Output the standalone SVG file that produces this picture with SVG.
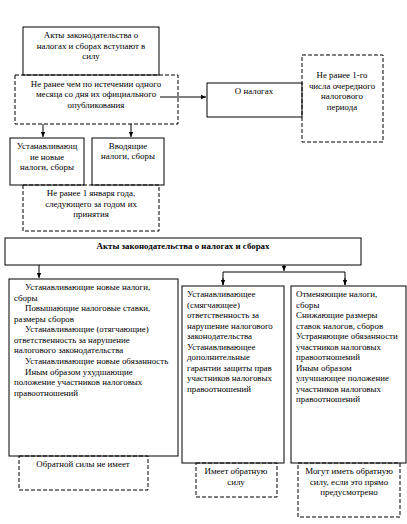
<svg xmlns="http://www.w3.org/2000/svg" width="407" height="524" viewBox="0 0 407 524">
<style>
.s{fill:#fff;stroke:#000;stroke-width:1}
.d{fill:none;stroke:#000;stroke-width:1;stroke-dasharray:4,2}
text{font-family:"Liberation Serif","Times New Roman",serif;font-size:8.9px;fill:#000}
.c{text-anchor:middle}
.b{font-weight:bold}
.ln{stroke:#000;stroke-width:1;fill:none}
</style>
<defs>
<marker id="ah" markerWidth="6" markerHeight="6" refX="5" refY="3" orient="auto" markerUnits="userSpaceOnUse">
<path d="M0,0.8 L5,3 L0,5.2 Z" fill="#000"/>
</marker>
</defs>
<rect width="407" height="524" fill="#fff"/>

<g id="connectors">
<line class="ln" x1="160" y1="97" x2="206" y2="97" marker-end="url(#ah)"/>
<line class="ln" x1="43" y1="124" x2="43" y2="137" marker-end="url(#ah)"/>
<line class="ln" x1="131" y1="124" x2="131" y2="137" marker-end="url(#ah)"/>
<line class="ln" x1="39" y1="265" x2="39" y2="278" marker-end="url(#ah)"/>
<line class="ln" x1="284" y1="265" x2="284" y2="271" marker-end="url(#ah)"/>
<polyline class="ln" points="223,285 223,272 345,272 345,285"/>
<line class="ln" x1="223" y1="278" x2="223" y2="285" marker-end="url(#ah)"/>
<line class="ln" x1="345" y1="278" x2="345" y2="285" marker-end="url(#ah)"/>
</g>

<g id="n1">
<rect class="s" x="23" y="27" width="136" height="48"/>
<text class="c" x="91" y="38">Акты законодательства о</text>
<text class="c" x="91" y="49">налогах и сборах вступают в</text>
<text class="c" x="91" y="59">силу</text>
</g>
<g id="n2">
<rect class="d" x="15" y="75" width="163" height="49"/>
<text class="c" x="96" y="87">Не ранее чем по истечении одного</text>
<text class="c" x="96" y="97">месяца со дня их официального</text>
<text class="c" x="96" y="108">опубликования</text>
</g>
<g id="n3">
<rect class="s" x="207" y="83" width="95" height="34"/>
<text class="c" x="254" y="94">О налогах</text>
</g>
<g id="n4">
<rect class="d" x="302" y="55" width="81" height="87"/>
<text class="c" x="342" y="78">Не ранее 1-го</text>
<text class="c" x="342" y="89">числа очередного</text>
<text class="c" x="342" y="99">налогового</text>
<text class="c" x="342" y="110">периода</text>
</g>
<g id="n5">
<rect class="s" x="10" y="138" width="74" height="47"/>
<text class="c" x="47" y="149">Устанавливающ</text>
<text class="c" x="47" y="160">ие новые</text>
<text class="c" x="47" y="170">налоги, сборы</text>
</g>
<g id="n6">
<rect class="s" x="92" y="138" width="72" height="47"/>
<text class="c" x="128" y="149">Вводящие</text>
<text class="c" x="128" y="159">налоги, сборы</text>
</g>
<g id="n7">
<rect class="d" x="23" y="185" width="136" height="46"/>
<text class="c" x="91" y="196">Не ранее 1 января года,</text>
<text class="c" x="91" y="207">следующего за годом их</text>
<text class="c" x="91" y="217">принятия</text>
</g>
<g id="n8">
<rect class="s" x="5" y="238" width="356" height="27"/>
<text class="c b" x="183" y="249">Акты законодательства о налогах и сборах</text>
</g>
<g id="n9">
<rect class="s" x="9" y="279" width="169" height="177"/>
<text x="25" y="290">Устанавливающие новые налоги,</text>
<text x="14" y="301">сборы</text>
<text x="25" y="311">Повышающие налоговые ставки,</text>
<text x="14" y="322">размеры сборов</text>
<text x="25" y="332">Устанавливающие (отягчающие)</text>
<text x="14" y="343">ответственность за нарушение</text>
<text x="14" y="353">налогового законодательства</text>
<text x="25" y="364">Устанавливающие новые обязанность</text>
<text x="25" y="375">Иным образом ухудшающие</text>
<text x="14" y="385">положение участников налоговых</text>
<text x="14" y="396">правоотношений</text>
</g>
<g id="n10">
<rect class="s" x="182" y="286" width="102" height="177"/>
<text x="187" y="297">Устанавливающее</text>
<text x="187" y="308">(смягчающее)</text>
<text x="187" y="318">ответственность за</text>
<text x="187" y="329">нарушение налогового</text>
<text x="187" y="339">законодательства</text>
<text x="187" y="350">Устанавливающее</text>
<text x="187" y="360">дополнительные</text>
<text x="187" y="371">гарантии защиты прав</text>
<text x="187" y="381">участников налоговых</text>
<text x="187" y="392">правоотношений</text>
</g>
<g id="n11">
<rect class="s" x="291" y="286" width="115" height="177"/>
<text x="296" y="297">Отменяющие налоги,</text>
<text x="296" y="308">сборы</text>
<text x="296" y="318">Снижающие размеры</text>
<text x="296" y="329">ставок налогов, сборов</text>
<text x="296" y="339">Устраняющие обязанности</text>
<text x="296" y="350">участников налоговых</text>
<text x="296" y="360">правоотношений</text>
<text x="296" y="371">Иным образом</text>
<text x="296" y="381">улучшающее положение</text>
<text x="296" y="392">участников налоговых</text>
<text x="296" y="402">правоотношений</text>
</g>
<g id="n12">
<rect class="d" x="19" y="456" width="129" height="34"/>
<text class="c" x="83" y="467">Обратной силы не имеет</text>
</g>
<g id="n13">
<rect class="d" x="196" y="463" width="81" height="34"/>
<text class="c" x="236" y="474">Имеет обратную</text>
<text class="c" x="236" y="485">силу</text>
</g>
<g id="n14">
<rect class="d" x="298" y="463" width="102" height="54"/>
<text class="c" x="349" y="474">Могут иметь обратную</text>
<text class="c" x="349" y="485">силу, если это прямо</text>
<text class="c" x="349" y="495">предусмотрено</text>
</g>
</svg>
